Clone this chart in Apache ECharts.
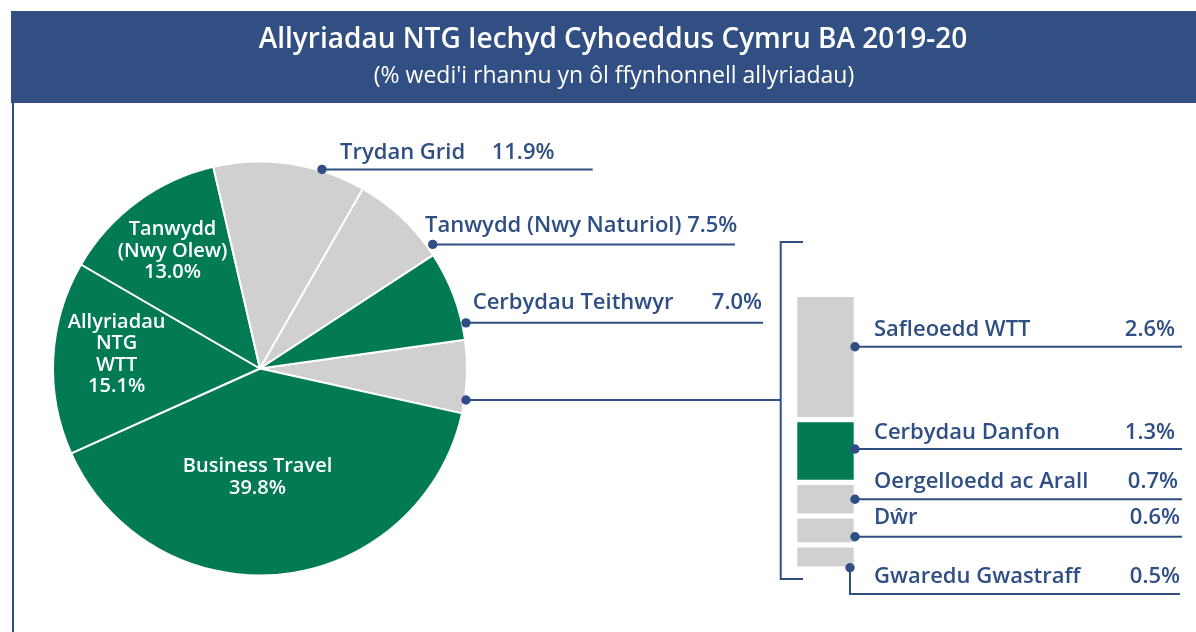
<!DOCTYPE html>
<html>
<head>
<meta charset="utf-8">
<script src="https://cdn.jsdelivr.net/npm/echarts@6/dist/echarts.min.js"></script>
<style>
  html, body { margin: 0; padding: 0; background: #fff; }
  #chart { width: 1196px; height: 632px; }
</style>
</head>
<body>
<div id="chart"></div>
<script>
const titleText = 'Allyriadau NTG Iechyd Cyhoeddus Cymru BA 2019-20'
const subtitleText = "(% wedi'i rhannu yn ôl ffynhonnell allyriadau)"

// pie slices, clockwise from the small grey "other" slice on the right
const pieNames = ['Arall', 'Business Travel', 'Allyriadau NTG WTT', 'Tanwydd (Nwy Olew)', 'Trydan Grid', 'Tanwydd (Nwy Naturiol)', 'Cerbydau Teithwyr']
const pieValues = [5.7, 39.8, 15.1, 13.0, 11.9, 7.5, 7.0]
const pieInsideText = ['', 'Business Travel', 'Allyriadau\nNTG\nWTT', 'Tanwydd\n(Nwy Olew)', '', '', '']

// breakdown of the "other" slice
const otherNames = ['Safleoedd WTT', 'Cerbydau Danfon', 'Oergelloedd ac Arall', 'Dŵr', 'Gwaredu Gwastraff']
const otherValues = [2.6, 1.3, 0.7, 0.6, 0.5]

const GREEN = '#027b55'
const GREY = '#d0d0d0'
const NAVY = '#2f4f84'
const BANNER = '#314f82'
const FONT = '"Open Sans", "Noto Sans", sans-serif'
const pieColors = [GREY, GREEN, GREEN, GREEN, GREY, GREY, GREEN]
const otherColors = [GREY, GREEN, GREY, GREY, GREY]

const center = [260, 368.5]
const radius = 207
const startAngle = 8
// nudges for the labels inside the green slices
const insideShift = { 1: [-13, 6], 2: [-40, -9], 3: [-26, -34] }

const chart = echarts.init(document.getElementById('chart'))

const pct = v => v.toFixed(1) + '%'
const polar = (deg, r) => {
  const a = deg * Math.PI / 180
  return [center[0] + r * Math.cos(a), center[1] - r * Math.sin(a)]
}

chart.setOption({
  animation: false,
  grid: { left: 794.7, top: 294.4, width: 61.6, height: 274.6 },
  xAxis: { type: 'category', data: [''], show: false },
  yAxis: { type: 'value', min: 0, max: 5.7, inverse: true, show: false },
  series: [
    {
      type: 'pie',
      center: center,
      radius: radius,
      startAngle: startAngle,
      clockwise: true,
      silent: true,
      itemStyle: { borderColor: '#fff', borderWidth: 2 },
      label: { show: false },
      labelLine: { show: false },
      data: pieNames.map((n, i) => ({
        name: n,
        value: pieValues[i],
        itemStyle: { color: pieColors[i] }
      }))
    }
  ].concat(otherValues.map((v, i) => ({
    type: 'bar',
    name: otherNames[i],
    stack: 'other',
    barWidth: '100%',
    silent: true,
    itemStyle: { color: otherColors[i], borderColor: '#fff', borderWidth: 2.6 },
    data: [v]
  })))
})

// annotations: banner, leader lines and labels
const txt = (x, y, text, opt) => ({
  type: 'text',
  x: x, y: y, z: 100,
  style: Object.assign({
    text: text,
    fill: NAVY,
    font: '600 22px ' + FONT,
    textAlign: 'left',
    textVerticalAlign: 'middle'
  }, opt || {})
})
const dot = (x, y) => ({ type: 'circle', z: 101, shape: { cx: x, cy: y, r: 4.7 }, style: { fill: NAVY } })
const line = pts => ({ type: 'polyline', z: 100, shape: { points: pts }, style: { stroke: NAVY, lineWidth: 2, fill: null } })

const g = []
g.push({ type: 'rect', z: 90, shape: { x: 11, y: 11, width: 1185, height: 92 }, style: { fill: BANNER } })
g.push(txt(613, 40, titleText, { fill: '#fff', font: '600 28px ' + FONT, textAlign: 'center' }))
g.push(txt(614, 76, subtitleText, { fill: '#fff', font: '400 23px ' + FONT, textAlign: 'center' }))
g.push(line([[13, 103], [13, 632]]))

// labels inside the green slices, placed from each slice's mid angle
const total = pieValues.reduce((a, b) => a + b, 0)
let cum = 0
pieValues.forEach((v, i) => {
  const a0 = startAngle - cum / total * 360
  cum += v
  const a1 = startAngle - cum / total * 360
  if (!pieInsideText[i]) return
  const p = polar((a0 + a1) / 2, radius / 2)
  const s = insideShift[i]
  g.push(txt(p[0] + s[0], p[1] + s[1], pieInsideText[i] + '\n' + pct(v), {
    fill: '#fff', font: '600 20px ' + FONT, textAlign: 'center', lineHeight: 21.5
  }))
})

// pie call-outs
const tr = polar(72.7, 208.5)
g.push(line([tr, [592.7, tr[1]]]), dot(tr[0], tr[1]))
g.push(txt(340, 152.7, pieNames[4]), txt(491.7, 152.7, pct(pieValues[4])))

const nn = polar(35.7, 212.7)
g.push(line([nn, [735, nn[1]]]), dot(nn[0], nn[1]))
g.push(txt(425, 226, pieNames[5] + ' ' + pct(pieValues[5])))

const te = polar(12.5, 211)
g.push(line([te, [763, te[1]]]), dot(te[0], te[1]))
g.push(txt(472.7, 302.7, pieNames[6]), txt(762, 302.7, pct(pieValues[6]), { textAlign: 'right' }))

const ot = polar(-8.7, 208.4)
g.push(line([ot, [780.7, ot[1]]]), dot(ot[0], ot[1]))
g.push(line([[803, 242], [780.7, 242], [780.7, 579], [803, 579]]))

// bar call-outs
const barRight = chart.convertToPixel({ gridIndex: 0 }, ['', 0])[0] + 61.6 / 2 - 1.3
const rows = [
  { ty: 330, ly: 346.7, px: 1175 },
  { ty: 433, ly: 449, px: 1175 },
  { ty: 481.7, ly: 499.3, px: 1178 },
  { ty: 518, ly: 536.7, px: 1180 }
]
rows.forEach((r, i) => {
  g.push(line([[barRight, r.ly], [1182, r.ly]]), dot(barRight, r.ly))
  g.push(txt(874, r.ty, otherNames[i]), txt(r.px, r.ty, pct(otherValues[i]), { textAlign: 'right' }))
})
const gx = barRight - 5
g.push(line([[gx, 567.7], [gx, 594], [1180, 594]]), dot(gx, 567.7))
g.push(txt(874, 576.7, otherNames[4]), txt(1180, 576.7, pct(otherValues[4]), { textAlign: 'right' }))

chart.setOption({ graphic: g })
</script>
</body>
</html>
